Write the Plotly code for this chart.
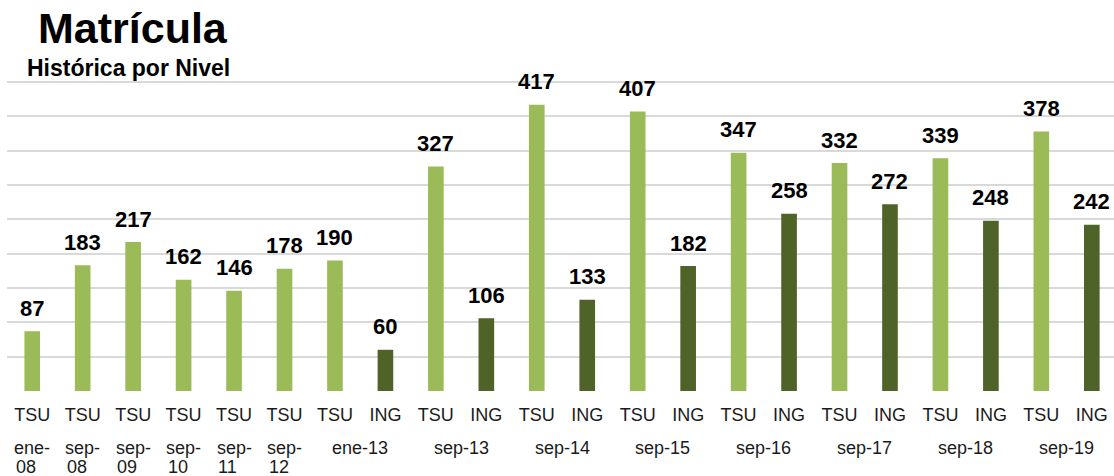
import plotly.graph_objects as go

# Data
periods = ["ene-08", "sep-08", "sep-09", "sep-10", "sep-11", "sep-12", "ene-13", "ene-13",
           "sep-13", "sep-13", "sep-14", "sep-14", "sep-15", "sep-15", "sep-16", "sep-16",
           "sep-17", "sep-17", "sep-18", "sep-18", "sep-19", "sep-19"]
levels = ["TSU", "TSU", "TSU", "TSU", "TSU", "TSU", "TSU", "ING",
          "TSU", "ING", "TSU", "ING", "TSU", "ING", "TSU", "ING",
          "TSU", "ING", "TSU", "ING", "TSU", "ING"]
values = [87, 183, 217, 162, 146, 178, 190, 60,
          327, 106, 417, 133, 407, 182, 347, 258,
          332, 272, 339, 248, 378, 242]

colors = {"TSU": "#9BBB59", "ING": "#4F6228"}
FONT = "Arial, Liberation Sans, sans-serif"

idx = list(range(len(values)))

fig = go.Figure()
fig.add_trace(go.Bar(
    x=idx, y=values, width=0.31,
    marker=dict(color=[colors[l] for l in levels], line=dict(width=0)),
    hoverinfo="skip",
))

annotations = []
# data labels
for i, v in zip(idx, values):
    annotations.append(dict(
        x=i, y=v, xref="x", yref="y", text=f"<b>{v}</b>", showarrow=False,
        yanchor="middle", yshift=23, font=dict(family=FONT, size=22, color="#000000"),
    ))

# group (period) labels
groups = []
for i, p in enumerate(periods):
    if groups and groups[-1][0] == p:
        groups[-1][1].append(i)
    else:
        groups.append((p, [i]))
label_font = dict(family=FONT, size=18, color="#1a1a1a")
for p, members in groups:
    cx = sum(members) / len(members)
    if len(members) == 1:
        head, tail = p.split("-")
        lines = [head + "-", tail]
    else:
        lines = [p]
    for k, line in enumerate(lines):
        annotations.append(dict(
            x=cx, y=0, xref="x", yref="paper", xanchor="center" if k == 0 else "left",
            xshift=0 if k == 0 else -18,
            text=line, showarrow=False, yanchor="middle", yshift=-57 - 19 * k,
            font=label_font,
        ))

# title and subtitle
annotations.append(dict(
    x=(36 - 7) / 1107, y=1 + (82 - 29) / 309, xref="paper", yref="paper",
    text="<b>Matrícula</b>", showarrow=False, xanchor="left", yanchor="middle",
    font=dict(family=FONT, size=43, color="#000000"),
))
annotations.append(dict(
    x=(25 - 7) / 1107, y=1 + (82 - 69) / 309, xref="paper", yref="paper",
    text="<b>Histórica por Nivel</b>", showarrow=False, xanchor="left", yanchor="middle",
    font=dict(family=FONT, size=23, color="#000000"),
))

fig.update_layout(
    width=1114, height=476,
    margin=dict(l=7, r=0, t=81, b=85),
    paper_bgcolor="white", plot_bgcolor="white",
    showlegend=False,
    annotations=annotations,
    xaxis=dict(
        range=[-0.5, 21.44], tickmode="array", tickvals=idx, ticktext=levels,
        showgrid=False, zeroline=False, showline=False,
        ticks="outside", ticklen=7, tickcolor="rgba(0,0,0,0)",
        tickfont=dict(family=FONT, size=18, color="#1a1a1a"),
    ),
    yaxis=dict(
        range=[0, 451.5], tickmode="array", tickvals=[0, 50, 100, 150, 200, 250, 300, 350, 400, 450],
        showticklabels=False,
        showgrid=True, gridcolor="#d9d9d9", gridwidth=2,
        zeroline=False, showline=False,
    ),
)

fig.write_html("out.html", config={"displayModeBar": False},
               post_script="document.body.style.margin='0';document.body.style.overflow='hidden';")
